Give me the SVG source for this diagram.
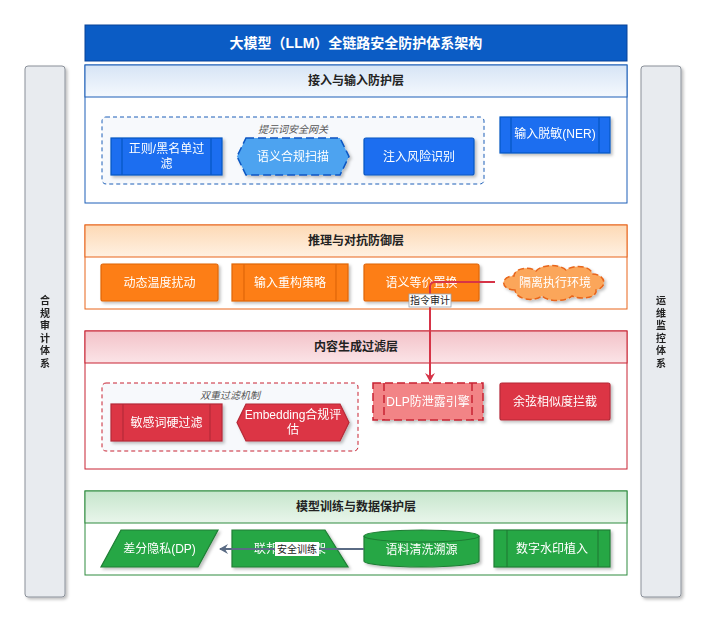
<svg xmlns="http://www.w3.org/2000/svg" width="709" height="626" viewBox="0 0 709 626">
<defs>
<style>
text{font-family:"Liberation Sans","Noto Sans CJK SC",sans-serif;}
.nt{font-size:12px;fill:#ffffff;text-anchor:middle;dominant-baseline:central;}
.hd{font-size:12px;font-weight:bold;fill:#222;text-anchor:middle;dominant-baseline:central;}
.gl{font-size:10px;font-style:italic;fill:#555;text-anchor:middle;dominant-baseline:central;}
.side{fill:#e8ebef;stroke:#8a9099;stroke-width:1;}
.st{font-size:10px;font-weight:bold;fill:#222;text-anchor:middle;dominant-baseline:central;}
.body{fill:#ffffff;}
.blue{fill:#1a6ef0;stroke:#0a56c2;stroke-width:1.2;}
.orange{fill:#fd7e14;stroke:#e0650a;stroke-width:1.2;}
.red{fill:#dc3545;stroke:#b52a37;stroke-width:1.2;}
.green{fill:#28a745;stroke:#1e7e34;stroke-width:1.2;}
.lbl{font-size:10px;fill:#222;text-anchor:middle;dominant-baseline:central;}
</style>
<linearGradient id="gB" x1="0" y1="0" x2="0" y2="1"><stop offset="0" stop-color="#d6e4f5"/><stop offset="1" stop-color="#f5f9fe"/></linearGradient>
<linearGradient id="gO" x1="0" y1="0" x2="0" y2="1"><stop offset="0" stop-color="#fdd9b5"/><stop offset="1" stop-color="#fff1e2"/></linearGradient>
<linearGradient id="gR" x1="0" y1="0" x2="0" y2="1"><stop offset="0" stop-color="#f3c2c8"/><stop offset="1" stop-color="#fbe4e7"/></linearGradient>
<linearGradient id="gG" x1="0" y1="0" x2="0" y2="1"><stop offset="0" stop-color="#c6e6cc"/><stop offset="1" stop-color="#e9f6eb"/></linearGradient>
<filter id="sh" x="-10%" y="-10%" width="130%" height="140%"><feDropShadow dx="2" dy="2" stdDeviation="1.5" flood-color="#000" flood-opacity="0.25"/></filter>
<marker id="arR" markerWidth="10" markerHeight="10" refX="8" refY="5" orient="auto" markerUnits="userSpaceOnUse"><path d="M0,0 L9,5 L0,10 L3,5 Z" fill="#d63447"/></marker>
<marker id="arG" markerWidth="10" markerHeight="10" refX="8" refY="5" orient="auto" markerUnits="userSpaceOnUse"><path d="M0,0 L9,5 L0,10 L3,5 Z" fill="#5a6b84"/></marker>
</defs>
<rect width="709" height="626" fill="#ffffff"/>

<g id="title">
<rect x="85" y="25" width="542" height="36" fill="#0b5cc5" stroke="#084298" stroke-width="1"/>
<text x="356" y="43" font-size="14" font-weight="bold" fill="#fff" text-anchor="middle" dominant-baseline="central">大模型（LLM）全链路安全防护体系架构</text>
</g>

<g id="side-left" filter="url(#sh)">
<rect class="side" x="25" y="66" width="40" height="531" rx="3"/>
<text class="st" x="45"><tspan x="45" y="300">合</tspan><tspan x="45" y="312.5">规</tspan><tspan x="45" y="325">审</tspan><tspan x="45" y="337.5">计</tspan><tspan x="45" y="350">体</tspan><tspan x="45" y="362.5">系</tspan></text>
</g>
<g id="side-right" filter="url(#sh)">
<rect class="side" x="641" y="66" width="40" height="531" rx="3"/>
<text class="st" x="661"><tspan x="661" y="300">运</tspan><tspan x="661" y="312.5">维</tspan><tspan x="661" y="325">监</tspan><tspan x="661" y="337.5">控</tspan><tspan x="661" y="350">体</tspan><tspan x="661" y="362.5">系</tspan></text>
</g>

<g id="layer1">
<rect class="body" x="85" y="65" width="542" height="138" stroke="#1c5fb8" stroke-width="1"/>
<rect x="85" y="65" width="542" height="32" fill="url(#gB)" stroke="#1c5fb8" stroke-width="1"/>
<text class="hd" x="356" y="81">接入与输入防护层</text>
</g>
<g id="group-gateway">
<rect x="102" y="117" width="382" height="67" rx="4" fill="#f7f9fc" stroke="#1c5fb8" stroke-width="1" stroke-dasharray="4 3"/>
<text class="gl" x="293" y="129">提示词安全网关</text>
</g>
<g id="n-regex" filter="url(#sh)">
<rect class="blue" x="111" y="138" width="111" height="37"/>
<line x1="122" y1="138" x2="122" y2="175" stroke="#0a56c2" stroke-width="1.2"/>
<line x1="211" y1="138" x2="211" y2="175" stroke="#0a56c2" stroke-width="1.2"/>
<text class="nt" x="166.5"><tspan x="166.5" y="149">正则/黑名单过</tspan><tspan x="166.5" y="164">滤</tspan></text>
</g>
<g id="n-semscan" filter="url(#sh)">
<path d="M246,138 L340,138 L349,156.5 L340,175 L246,175 L237,156.5 Z" fill="#4da3f0" stroke="#0a56c2" stroke-width="1.5" stroke-dasharray="8 4"/>
<text class="nt" x="293" y="156.5">语义合规扫描</text>
</g>
<g id="n-inject" filter="url(#sh)">
<rect class="blue" x="364" y="138" width="110" height="37" rx="2"/>
<text class="nt" x="419" y="156.5">注入风险识别</text>
</g>
<g id="n-ner" filter="url(#sh)">
<rect class="blue" x="500" y="117" width="110" height="36"/>
<line x1="511" y1="117" x2="511" y2="153" stroke="#0a56c2" stroke-width="1.2"/>
<line x1="599" y1="117" x2="599" y2="153" stroke="#0a56c2" stroke-width="1.2"/>
<text class="nt" x="555" y="134">输入脱敏(NER)</text>
</g>

<g id="layer2">
<rect class="body" x="85" y="225" width="542" height="84" stroke="#e8651a" stroke-width="1"/>
<rect x="85" y="225" width="542" height="32" fill="url(#gO)" stroke="#e8651a" stroke-width="1"/>
<text class="hd" x="356" y="241">推理与对抗防御层</text>
</g>
<g id="n-temp" filter="url(#sh)">
<rect class="orange" x="101" y="264" width="117" height="37" rx="2"/>
<text class="nt" x="159.5" y="282.5">动态温度扰动</text>
</g>
<g id="n-rebuild" filter="url(#sh)">
<rect class="orange" x="232" y="264" width="116" height="37"/>
<line x1="244" y1="264" x2="244" y2="301" stroke="#e0650a" stroke-width="1.2"/>
<line x1="336" y1="264" x2="336" y2="301" stroke="#e0650a" stroke-width="1.2"/>
<text class="nt" x="290" y="282.5">输入重构策略</text>
</g>
<g id="n-equiv" filter="url(#sh)">
<rect class="orange" x="364" y="264" width="115" height="37" rx="2"/>
<text class="nt" x="421.5" y="282.5">语义等价置换</text>
</g>
<g id="n-sandbox" filter="url(#sh)">
<path d="M515,290 C500,290 500,276 514,276 C514,268 530,266 536,271 C542,264 560,264 566,270 C574,264 592,266 592,274 C606,274 608,288 596,290 C598,298 580,300 572,296 C566,302 548,302 542,296 C534,302 516,300 515,290 Z" fill="#fba65a" stroke="#e8651a" stroke-width="1.5" stroke-dasharray="6 3"/>
<text class="nt" x="555" y="282.5">隔离执行环境</text>
</g>

<g id="layer3">
<rect class="body" x="85" y="331" width="542" height="138" stroke="#c82333" stroke-width="1"/>
<rect x="85" y="331" width="542" height="32" fill="url(#gR)" stroke="#c82333" stroke-width="1"/>
<text class="hd" x="356" y="347">内容生成过滤层</text>
</g>
<g id="group-dual">
<rect x="102" y="383" width="256" height="68" rx="4" fill="#f7f9fc" stroke="#c82333" stroke-width="1" stroke-dasharray="4 3"/>
<text class="gl" x="230" y="395">双重过滤机制</text>
</g>
<g id="n-keyword" filter="url(#sh)">
<rect class="red" x="111" y="404" width="111" height="37"/>
<line x1="123" y1="404" x2="123" y2="441" stroke="#b52a37" stroke-width="1.2"/>
<line x1="210" y1="404" x2="210" y2="441" stroke="#b52a37" stroke-width="1.2"/>
<text class="nt" x="166.5" y="422.5">敏感词硬过滤</text>
</g>
<g id="n-embed" filter="url(#sh)">
<path d="M246,404 L340,404 L349,422.5 L340,441 L246,441 L237,422.5 Z" fill="#dc3545" stroke="#b52a37" stroke-width="1.2"/>
<text class="nt" x="293"><tspan x="293" y="415">Embedding合规评</tspan><tspan x="293" y="430">估</tspan></text>
</g>
<g id="n-dlp" filter="url(#sh)">
<rect x="373" y="383" width="110" height="37" fill="#f28486" stroke="#c82333" stroke-width="1.5" stroke-dasharray="8 4"/>
<line x1="384" y1="383" x2="384" y2="420" stroke="#c82333" stroke-width="1.5" stroke-dasharray="8 4"/>
<line x1="472" y1="383" x2="472" y2="420" stroke="#c82333" stroke-width="1.5" stroke-dasharray="8 4"/>
<text class="nt" x="428" y="401.5">DLP防泄露引擎</text>
</g>
<g id="n-cosine" filter="url(#sh)">
<rect class="red" x="500" y="383" width="110" height="37" rx="2"/>
<text class="nt" x="555" y="401.5">余弦相似度拦截</text>
</g>

<g id="layer4">
<rect class="body" x="85" y="491" width="542" height="84" stroke="#2e8b3e" stroke-width="1"/>
<rect x="85" y="491" width="542" height="32" fill="url(#gG)" stroke="#2e8b3e" stroke-width="1"/>
<text class="hd" x="356" y="507">模型训练与数据保护层</text>
</g>
<g id="n-dp" filter="url(#sh)">
<path d="M121,530 L218,530 L198,567 L101,567 Z" class="green"/>
<text class="nt" x="159.5" y="548.5">差分隐私(DP)</text>
</g>
<g id="n-fed" filter="url(#sh)">
<path d="M232,530 L325,530 L348,567 L232,567 Z" class="green"/>
<text class="nt" x="290" y="548.5">联邦学习框架</text>
</g>
<g id="n-corpus" filter="url(#sh)">
<path d="M364,536 A57.5,6 0 0 1 479,536 L479,561 A57.5,6 0 0 1 364,561 Z" class="green"/>
<path d="M364,536 A57.5,6 0 0 0 479,536" fill="none" stroke="#1e7e34" stroke-width="1.2"/>
<text class="nt" x="421.5" y="550">语料清洗溯源</text>
</g>
<g id="n-watermark" filter="url(#sh)">
<rect class="green" x="494" y="530" width="116" height="37"/>
<line x1="507" y1="530" x2="507" y2="567" stroke="#1e7e34" stroke-width="1.2"/>
<line x1="598" y1="530" x2="598" y2="567" stroke="#1e7e34" stroke-width="1.2"/>
<text class="nt" x="552" y="548.5">数字水印植入</text>
</g>

<g id="connectors">
<path d="M495,282 L435,282 Q430,282 430,287 L430,381" fill="none" stroke="#d63447" stroke-width="2" marker-end="url(#arR)"/>
<rect x="409" y="294" width="42" height="13" fill="#fff" stroke="#9aa3b0" stroke-width="0.8"/>
<text class="lbl" x="430" y="300.5">指令审计</text>
<path d="M364,549 L220,549" fill="none" stroke="#5a6b84" stroke-width="2" marker-end="url(#arG)"/>
<rect x="275" y="542" width="44" height="14" fill="#fff"/>
<text class="lbl" x="297" y="549">安全训练</text>
</g>
</svg>
